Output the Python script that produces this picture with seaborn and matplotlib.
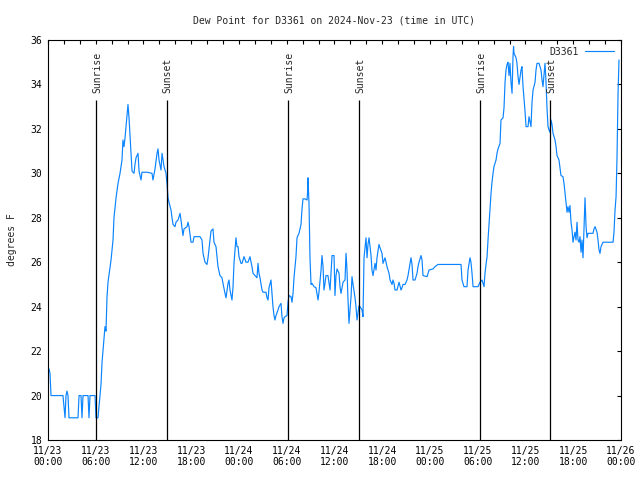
import matplotlib
matplotlib.use("Agg")
import matplotlib.pyplot as plt
import seaborn as sns
from matplotlib.ticker import MultipleLocator

# hours since 2024-11-23 00:00 UTC
hours = [0.00, 0.13, 0.25, 0.38, 1.88, 2.01, 2.14, 2.26, 2.39, 2.51, 2.64, 3.77, 3.90, 4.15, 4.27, 4.40,
         5.03, 5.15, 5.28, 5.91, 6.03, 6.28, 6.41, 6.53, 6.66, 6.79, 7.04, 7.16, 7.29, 7.41, 7.54, 7.92,
         8.17, 8.29, 8.55, 8.80, 9.05, 9.30, 9.42, 9.55, 9.68, 9.93, 10.05, 10.18, 10.43, 10.56, 10.81,
         10.93, 11.06, 11.31, 11.44, 11.69, 11.81, 12.44, 13.07, 13.19, 13.45, 13.70, 13.82, 13.95, 14.20,
         14.33, 14.58, 14.83, 14.95, 15.08, 15.20, 15.46, 15.58, 15.71, 15.96, 16.08, 16.34, 16.59, 16.71,
         16.96, 17.09, 17.47, 17.59, 17.72, 17.97, 18.22, 18.35, 19.10, 19.35, 19.48, 19.73, 19.98, 20.11,
         20.36, 20.48, 20.73, 20.86, 21.11, 21.36, 21.61, 21.86, 21.99, 22.24, 22.37, 22.62, 22.74, 22.87,
         23.12, 23.25, 23.37, 23.62, 23.75, 23.88, 24.00, 24.25, 24.38, 24.63, 24.88, 25.13, 25.38, 25.63,
         25.76, 26.01, 26.26, 26.39, 26.51, 26.64, 26.89, 27.02, 27.39, 27.52, 27.65, 27.77, 28.02, 28.15,
         28.27, 28.40, 28.52, 28.65, 28.90, 29.03, 29.28, 29.40, 29.53, 29.66, 29.78, 30.03, 30.16, 30.28,
         30.54, 30.66, 30.79, 30.91, 31.16, 31.29, 31.54, 31.79, 31.92, 32.04, 32.29, 32.55, 32.61, 32.67,
         32.80, 32.92, 33.05, 33.17, 33.43, 33.68, 33.80, 33.93, 34.05, 34.31, 34.43, 34.56, 34.68, 34.81,
         34.93, 35.18, 35.44, 35.69, 35.94, 36.06, 36.19, 36.32, 36.57, 36.69, 36.82, 37.07, 37.32, 37.45,
         37.57, 37.70, 37.82, 38.08, 38.20, 38.33, 38.58, 38.70, 38.83, 39.08, 39.21, 39.46, 39.58, 39.71,
         39.96, 40.09, 40.21, 40.34, 40.59, 40.71, 40.84, 41.09, 41.22, 41.34, 41.59, 41.72, 41.97, 42.10,
         42.35, 42.47, 42.60, 42.85, 42.98, 43.23, 43.35, 43.48, 43.60, 43.86, 44.11, 44.36, 44.48, 44.61,
         44.86, 45.11, 45.24, 45.36, 45.61, 45.74, 45.87, 46.12, 46.37, 46.49, 46.62, 46.87, 47.00, 47.12,
         47.63, 47.88, 48.38, 48.63, 49.01, 51.90, 52.02, 52.27, 52.65, 52.78, 53.03, 53.15, 53.28, 53.41,
         54.03, 54.29, 54.54, 54.79, 54.91, 55.04, 55.17, 55.29, 55.54, 55.67, 55.79, 55.92, 56.04, 56.30,
         56.42, 56.55, 56.80, 56.92, 57.18, 57.30, 57.43, 57.55, 57.68, 57.80, 57.93, 58.05, 58.18, 58.31,
         58.43, 58.50, 58.56, 58.81, 58.93, 59.06, 59.19, 59.44, 59.56, 59.69, 59.94, 60.07, 60.32, 60.44,
         60.69, 60.82, 60.95, 61.20, 61.32, 61.45, 61.70, 61.95, 62.08, 62.20, 62.45, 62.58, 62.70, 62.83,
         62.96, 63.08, 63.21, 63.33, 63.46, 63.71, 63.84, 63.96, 64.21, 64.34, 64.46, 64.71, 64.84, 64.97,
         65.22, 65.34, 65.47, 65.59, 65.72, 65.85, 65.97, 66.10, 66.22, 66.35, 66.47, 66.60, 66.73, 66.85,
         66.98, 67.10, 67.23, 67.35, 67.48, 67.61, 67.73, 67.86, 68.48, 68.61, 68.74, 68.99, 69.11, 69.24,
         69.36, 69.49, 69.74, 71.00, 71.12, 71.25, 71.38, 71.50, 71.63, 71.75]

dewpoint = [21.0, 21.2, 21.0, 20.0, 20.0, 19.5, 19.0, 20.0, 20.2, 20.0, 19.0, 19.0, 20.0, 20.0, 19.0, 20.0,
            20.0, 19.0, 20.0, 20.0, 19.0, 19.0, 19.5, 20.0, 20.5, 21.5, 22.6, 23.1, 22.9, 24.4, 25.1, 26.1,
            27.0, 28.0, 28.9, 29.55, 30.0, 30.6, 31.5, 31.2, 31.6, 32.6, 33.1, 32.5, 30.9, 30.1, 30.0,
            30.4, 30.7, 30.9, 30.1, 29.7, 30.05, 30.05, 30.0, 29.7, 30.2, 30.9, 31.1, 30.6, 30.15,
            30.9, 30.3, 30.0, 29.55, 28.9, 28.7, 28.35, 28.0, 27.7, 27.6, 27.8, 27.9, 28.2, 27.9,
            27.2, 27.5, 27.6, 27.8, 27.6, 26.9, 26.9, 27.15, 27.15, 27.0, 26.4, 26.0, 25.9, 26.2,
            27.0, 27.4, 27.5, 26.9, 26.7, 25.8, 25.4, 25.3, 25.05, 24.6, 24.4, 25.05, 25.2, 24.75,
            24.3, 24.9, 25.95, 27.1, 26.7, 26.7, 26.25, 25.95, 25.95, 26.25, 26.0, 26.0, 26.25, 25.8,
            25.5, 25.4, 25.3, 25.95, 25.5, 25.3, 24.75, 24.65, 24.65, 24.4, 24.3, 24.85, 25.2, 24.6,
            24.0, 23.6, 23.4, 23.6, 23.85, 24.0, 24.15, 23.55, 23.25, 23.5, 23.55, 23.6, 24.2, 24.5,
            24.45, 24.2, 24.6, 25.3, 26.25, 27.1, 27.3, 27.7, 28.4, 28.85, 28.85, 28.8, 29.1, 29.8,
            28.6, 26.2, 25.0, 25.05, 24.9, 24.85, 24.6, 24.3, 24.65, 25.65, 26.3, 25.8, 24.75, 25.05,
            25.4, 25.4, 24.75, 26.3, 26.3, 24.5, 25.4, 25.7, 25.5, 24.9, 24.6, 25.1, 25.2, 26.4,
            25.65, 24.3, 23.25, 24.45, 25.35, 25.0, 24.4, 24.0, 23.4, 24.05, 24.0, 23.85, 23.55, 26.2,
            27.1, 26.2, 26.8, 27.1, 26.3, 25.65, 25.4, 25.95, 25.65, 26.2, 26.8, 26.65, 26.4, 25.95,
            26.2, 26.0, 25.8, 25.5, 25.2, 25.0, 25.2, 25.05, 24.75, 24.75, 25.1, 24.75, 24.85, 25.0,
            25.0, 25.2, 25.4, 25.65, 26.2, 25.9, 25.2, 25.2, 25.5, 25.8, 26.0, 26.3, 26.1, 25.4,
            25.35, 25.65, 25.7, 25.8, 25.9, 25.9, 25.2, 24.9, 24.9, 25.65, 26.2, 26.0, 25.5, 24.9,
            24.9, 25.1, 25.2, 24.9, 25.5, 25.9, 26.25, 27.0, 28.35, 29.1, 29.6, 30.0, 30.3, 30.6,
            30.9, 31.1, 31.35, 32.4, 32.5, 32.95, 34.1, 34.65, 34.9, 35.0, 34.4, 34.95, 34.1, 33.6,
            35.25, 35.7, 35.4, 35.2, 34.95, 34.35, 34.0, 34.65, 34.8, 33.9, 32.8, 32.1, 32.1, 32.55,
            32.1, 33.2, 33.75, 34.1, 34.65, 34.95, 34.95, 34.65, 34.2, 33.9, 34.95, 34.1, 32.95, 32.1,
            31.95, 31.85, 32.4, 32.2, 31.8, 31.5, 31.2, 30.8, 30.6, 30.25, 29.9, 29.85, 29.55, 29.1,
            28.25, 28.5, 28.25, 28.55, 27.8, 27.45, 26.9, 27.15, 27.35, 27.0, 27.8, 27.0, 26.9, 27.15,
            26.45, 27.0, 26.2, 27.45, 28.9, 27.6, 27.1, 27.3, 27.3, 27.5, 27.6, 27.35, 27.0, 26.55,
            26.4, 26.7, 26.9, 26.9, 27.35, 28.35, 28.95, 30.7, 33.6, 35.1]

sun_hours = [6.07, 14.95, 30.20, 39.12, 54.32, 63.12]
sun_labels = ["Sunrise", "Sunset", "Sunrise", "Sunset", "Sunrise", "Sunset"]

tick_hours = list(range(0, 73, 6))
tick_labels = ["11/23\n00:00", "11/23\n06:00", "11/23\n12:00", "11/23\n18:00",
               "11/24\n00:00", "11/24\n06:00", "11/24\n12:00", "11/24\n18:00",
               "11/25\n00:00", "11/25\n06:00", "11/25\n12:00", "11/25\n18:00",
               "11/26\n00:00"]

sns.set_style("white")
plt.rcParams['font.family'] = ['DejaVu Sans Mono']
plt.rcParams['font.size'] = 7

fig = plt.figure(figsize=(6.4, 4.8), dpi=100)
ax = fig.add_axes([0.075, 0.0833, 0.8953, 0.8334])

sns.lineplot(x=hours, y=dewpoint, ax=ax, color="#0a84ff", linewidth=0.85,
             estimator=None, sort=False, label="D3361")

ax.vlines(sun_hours, 18, 33.3, color="black", linewidth=0.9)
for h, lab in zip(sun_hours, sun_labels):
    ax.text(h + 0.1, 33.6, lab, rotation=90, ha="center", va="bottom", fontsize=7)

ax.set_xlim(0, 72)
ax.set_ylim(18, 36)
ax.set_xticks(tick_hours)
ax.set_xticklabels(tick_labels)
ax.xaxis.set_minor_locator(MultipleLocator(2))
ax.yaxis.set_major_locator(MultipleLocator(2))
ax.tick_params(which="both", direction="in", top=True, right=True, length=3, width=0.8,
               colors="black", labelsize=7, pad=4)
for s in ax.spines.values():
    s.set_color("black")
    s.set_linewidth(0.8)

ax.set_xlabel("")
ax.set_ylabel("degrees F", fontsize=7, labelpad=10)
ax.set_title("Dew Point for D3361 on 2024-Nov-23 (time in UTC)", fontsize=7, pad=12)

ax.legend(loc="upper right", frameon=False, markerfirst=False, handlelength=3.0,
          fontsize=7, borderaxespad=0.3, borderpad=0.4, handletextpad=0.6)

fig.savefig("out.png", dpi=100)
